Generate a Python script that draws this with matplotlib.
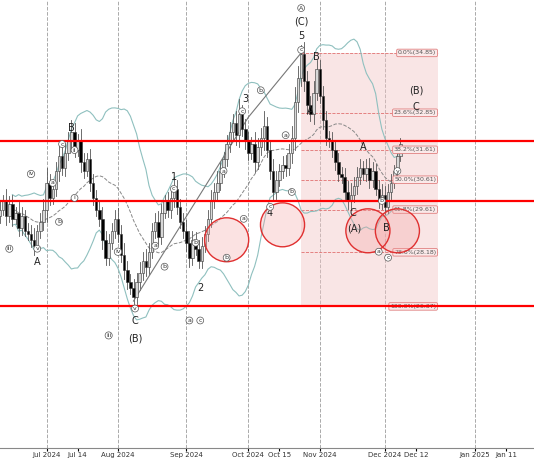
import numpy as np
import pandas as pd
import matplotlib.pyplot as plt
from matplotlib.patches import Ellipse, Rectangle

# daily closes (bar index = trading day)
closes = [29.6, 29.9, 29.4, 29.8, 29.3, 29.5, 29.0, 29.4, 28.9, 28.8, 28.6, 28.4,
          28.9, 29.2, 29.6, 30.5, 30.0, 30.3, 30.9, 31.4, 31.0, 31.5, 31.9, 32.2,
          31.6, 31.9, 31.2, 30.9, 31.3, 30.5, 30.0, 29.6, 29.3, 28.6, 28.0,
          28.5, 28.9, 29.3, 28.8, 28.1, 27.6, 27.2, 27.0, 26.7,
          27.2, 27.5, 27.9, 27.7, 28.2, 28.9, 29.2, 28.7, 29.5, 29.9, 29.6, 30.0, 30.3,
          29.7, 29.2, 28.9, 28.5, 28.0, 28.6, 28.3, 27.9,
          28.4, 28.8, 29.3, 29.9, 30.2, 30.5, 30.9, 31.3, 31.8, 32.2, 32.5, 32.1, 32.8,
          32.3, 31.9, 31.5, 31.8, 31.2, 31.7, 32.0, 32.4, 31.6, 30.9, 30.2,
          30.6, 30.9, 31.1, 31.0, 31.5, 32.0, 33.2, 34.0, 34.8,
          33.9, 33.1, 32.8, 33.5, 34.3,
          33.4, 32.6, 32.0, 31.9, 31.6, 31.2, 30.8, 30.7, 30.2, 29.9, 30.1,
          30.4, 30.7, 31.0, 30.8, 31.0, 30.6, 30.9, 30.3,
          29.9, 30.1, 29.7, 30.2, 30.5, 30.9, 31.4, 31.8]
wicks = [0.3, 0.2, 0.4, 0.25, 0.3, 0.2, 0.35, 0.3, 0.2, 0.25, 0.3, 0.4,
         0.2, 0.3, 0.35, 0.5, 0.3, 0.25, 0.3, 0.4, 0.3, 0.35, 0.3, 0.4,
         0.3, 0.25, 0.4, 0.3, 0.2, 0.35, 0.3, 0.25, 0.3, 0.4, 0.3,
         0.3, 0.25, 0.3, 0.35, 0.3, 0.4, 0.3, 0.25, 0.3,
         0.3, 0.35, 0.3, 0.4, 0.3, 0.25, 0.3, 0.35, 0.3, 0.2, 0.3, 0.35, 0.4,
         0.3, 0.25, 0.3, 0.35, 0.4, 0.3, 0.25, 0.3,
         0.3, 0.25, 0.3, 0.35, 0.3, 0.4, 0.3, 0.25, 0.3, 0.35, 0.3, 0.4, 0.5,
         0.3, 0.35, 0.3, 0.25, 0.4, 0.3, 0.35, 0.5, 0.3, 0.35, 0.4,
         0.3, 0.25, 0.3, 0.35, 0.3, 0.4, 0.5, 0.4, 0.3,
         0.4, 0.35, 0.3, 0.4, 0.3,
         0.3, 0.35, 0.3, 0.25, 0.3, 0.35, 0.3, 0.25, 0.3, 0.35, 0.4,
         0.3, 0.35, 0.3, 0.25, 0.3, 0.35, 0.3, 0.25,
         0.3, 0.35, 0.3, 0.25, 0.3, 0.2, 0.25, 0.2]

tick_pos = [15, 25, 38, 60, 80, 90, 103, 124, 134, 153, 163]
tick_labels = ['Jul 2024', 'Jul 14', 'Aug 2024', 'Sep 2024', 'Oct 2024', 'Oct 15',
               'Nov 2024', 'Dec 2024', 'Dec 12', 'Jan 2025', 'Jan 11']
month_pos = [15, 38, 60, 80, 103, 124, 153]

fib_levels = [34.85, 32.85, 31.61, 30.61, 29.61, 28.18, 26.37]
fib_names = ['0.0%', '23.6%', '38.2%', '50.0%', '61.8%', '78.6%', '100.0%']
red_lines = [31.91, 29.91, 26.37]

# wave labels: bar, price, text, circled
waves = [(12, 27.87, 'A', False), (23, 32.35, 'B', False), (43.5, 25.87, 'C', False),
         (43.5, 25.3, '(B)', False), (56, 30.7, '1', False), (64.5, 27.0, '2', False),
         (79, 33.3, '3', False), (87, 29.5, '4', False), (97, 35.4, '5', False),
         (97, 35.9, '(C)', False), (97, 36.35, 'A', True), (102, 34.7, 'B', False),
         (100, 32.9, 'A', False), (114, 28.97, '(A)', False), (113.5, 29.5, 'C', False),
         (117, 31.7, 'A', False), (124.5, 29.0, 'B', False), (134, 33.6, '(B)', False),
         (134, 33.05, 'C', False),
         (10, 30.8, 'iv', True), (12, 28.3, 'v', True), (3, 28.3, 'iii', True),
         (17, 30.5, 'a', True), (20, 31.8, 'c', True), (24, 31.6, 'ii', True),
         (24, 30.0, 'i', True), (19, 29.2, 'b', True), (38, 28.2, 'iv', True),
         (35, 25.4, 'iii', True), (43.5, 26.3, 'v', True), (50, 28.4, 'a', True),
         (53, 27.7, 'b', True), (56, 30.3, 'c', True), (63, 28.5, 'b', True),
         (61, 25.9, 'a', True), (64.5, 25.9, 'c', True), (72, 30.9, 'a', True),
         (73, 28.0, 'b', True), (78, 32.9, 'c', True), (84, 33.6, 'b', True),
         (78.5, 29.3, 'a', True), (87, 29.7, 'c', True), (92, 32.1, 'a', True),
         (94, 30.2, 'b', True), (97, 34.95, 'c', True), (123, 29.9, 'b', True),
         (122, 28.2, 'a', True), (125, 28.0, 'c', True), (128, 30.9, 'y', True)]
circles = [(73, 28.6), (91, 29.1), (118.5, 28.9), (128, 28.9)]

fig = plt.figure(figsize=(5.34, 4.62), dpi=100)
ax = fig.add_axes([0, 0.03, 1, 0.97])
ax.set_xlim(0, 172)
ax.set_ylim(21.63, 36.62)

for p in month_pos:
    ax.axvline(p, color='#aaaaaa', linestyle='--', linewidth=0.7, zorder=0)

# fib retracement box
ax.add_patch(Rectangle((97, 26.37), 44, 34.85 - 26.37, color='#f2c6c6', alpha=0.45, lw=0, zorder=0))
for lv, nm in zip(fib_levels, fib_names):
    ax.plot([97, 141], [lv, lv], color='#e07070', linestyle='--', linewidth=0.6, zorder=1)
    ax.text(140.5, lv, f'{nm}({lv:.2f})', fontsize=4.5, ha='right', va='center', color='#555555',
            bbox=dict(boxstyle='round,pad=0.2', fc='#fbeaea', ec='#e08080', lw=0.6), zorder=5)

# bollinger bands
s = pd.Series(closes)
mid = s.rolling(20, min_periods=5).mean()
sd = s.rolling(20, min_periods=5).std()
x = np.arange(len(closes))
ax.plot(x, mid, color='#888888', linestyle='--', linewidth=0.7, zorder=2)
ax.plot(x, mid + 2 * sd, color='#8fc0bf', linewidth=0.8, zorder=2)
ax.plot(x, mid - 2 * sd, color='#8fc0bf', linewidth=0.8, zorder=2)

# candles
opens = [closes[0] - 0.2] + closes[:-1]
for i, (o, c, w) in enumerate(zip(opens, closes, wicks)):
    hi, lo = max(o, c) + w, min(o, c) - w * 0.8
    ax.plot([i, i], [lo, hi], color='#555555', linewidth=0.6, zorder=3)
    fc = '#d8d8d8' if c >= o else 'black'
    ax.add_patch(Rectangle((i - 0.4, min(o, c)), 0.8, max(abs(c - o), 0.04),
                           fc=fc, ec='#333333', lw=0.4, zorder=4))

# wave lines
ax.plot([43, 80, 97], [26.55, 32.7, 34.85], color='#777777', linewidth=0.8, zorder=3)

for lv in red_lines:
    ax.axhline(lv, color='red', linewidth=1.6, zorder=6)

for cx, cy in circles:
    ax.add_patch(Ellipse((cx, cy), 14.2, 1.47, fc='#f4a0a0', alpha=0.3, ec='none', zorder=5))
    ax.add_patch(Ellipse((cx, cy), 14.2, 1.47, fc='none', ec='#e03030', lw=1.0, zorder=6))

for bx, by, t, circ in waves:
    if circ:
        ax.text(bx, by, t, fontsize=4.5, ha='center', va='center', color='#333333', zorder=7,
                bbox=dict(boxstyle='circle,pad=0.15', fc='white', ec='#555555', lw=0.5))
    else:
        ax.text(bx, by, t, fontsize=7, ha='center', va='center', color='#222222', zorder=7)

ax.set_xticks(tick_pos)
ax.set_xticklabels(tick_labels, fontsize=5, color='#333333')
ax.tick_params(axis='x', length=2, pad=1)
ax.set_yticks([])
for sp in ['top', 'left', 'right']:
    ax.spines[sp].set_visible(False)
ax.spines['bottom'].set_color('#888888')

fig.savefig('out.png', dpi=100)
